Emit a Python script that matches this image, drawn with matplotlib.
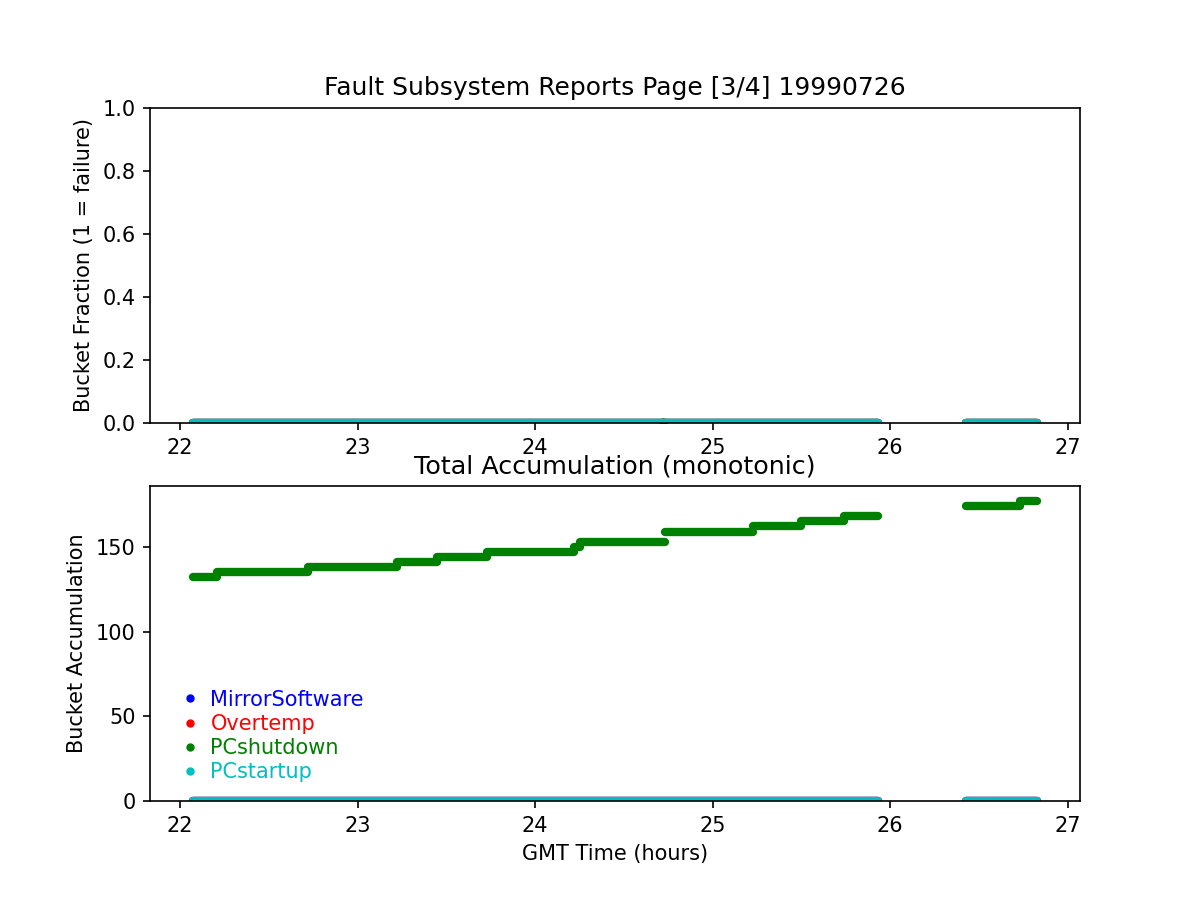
import matplotlib
matplotlib.use("Agg")
import matplotlib.pyplot as plt
from matplotlib.lines import Line2D

# series names and colours (legend order)
SERIES = ["MirrorSoftware", "Overtemp", "PCshutdown", "PCstartup"]
COLORS = ["b", "r", "g", "c"]

# time spans (GMT hours) where data exists; the others sit at zero there
ZERO_START = [22.07, 26.43]
ZERO_END = [25.93, 26.83]

# PCshutdown accumulation: step segments (start, end, value)
SHUT_START = [22.07, 22.21, 22.72, 23.22, 23.445, 23.727, 24.22, 24.25, 24.73,
              25.23, 25.50, 25.74, 26.43, 26.73]
SHUT_END = [22.21, 22.72, 23.22, 23.445, 23.727, 24.22, 24.25, 24.73, 25.23,
            25.50, 25.74, 25.93, 26.73, 26.83]
SHUT_VALUE = [132, 135, 138, 141, 144, 147, 150, 153, 159, 162, 165, 168, 174, 177]

# tiny failure-fraction bump for PCshutdown in the top panel
BUMP_TIME = [24.72]
BUMP_VALUE = [0.004]

LW = 4.0


def draw_segments(ax, starts, ends, values, color):
    for s, e, v in zip(starts, ends, values):
        ax.plot([s, e], [v, v], "-", color=color, lw=LW, solid_capstyle="round")


def main() -> None:
    fig, (ax1, ax2) = plt.subplots(2, 1, figsize=(8, 6), dpi=150)

    # top panel: bucket fractions (all zero)
    for name, color in zip(SERIES, COLORS):
        if name == "PCshutdown":
            ax1.plot(BUMP_TIME, BUMP_VALUE, ".", color=color, ms=6)
        draw_segments(ax1, ZERO_START, ZERO_END, [0, 0], color)
    ax1.set_ylim(0, 1)
    ax1.set_ylabel("Bucket Fraction (1 = failure)")
    ax1.set_title("Fault Subsystem Reports Page [3/4] 19990726")

    # bottom panel: accumulation
    for name, color in zip(SERIES, COLORS):
        if name == "PCshutdown":
            draw_segments(ax2, SHUT_START, SHUT_END, SHUT_VALUE, color)
        else:
            draw_segments(ax2, ZERO_START, ZERO_END, [0, 0], color)
    ax2.set_ylim(bottom=0)
    ax2.set_ylabel("Bucket Accumulation")
    ax2.set_xlabel("GMT Time (hours)")
    ax2.set_title("Total Accumulation (monotonic)", fontsize=12.2)

    handles = [Line2D([], [], marker=".", ls="none", color=c, ms=6) for c in COLORS]
    leg = ax2.legend(handles, SERIES, loc="lower left", frameon=False,
                     handlelength=2.0, handletextpad=0.0, labelspacing=0.2)
    for text, color in zip(leg.get_texts(), COLORS):
        text.set_color(color)

    for ax in (ax1, ax2):
        ax.set_xlim(21.83, 27.07)

    fig.savefig("out.png", dpi=150)


if __name__ == "__main__":
    main()
